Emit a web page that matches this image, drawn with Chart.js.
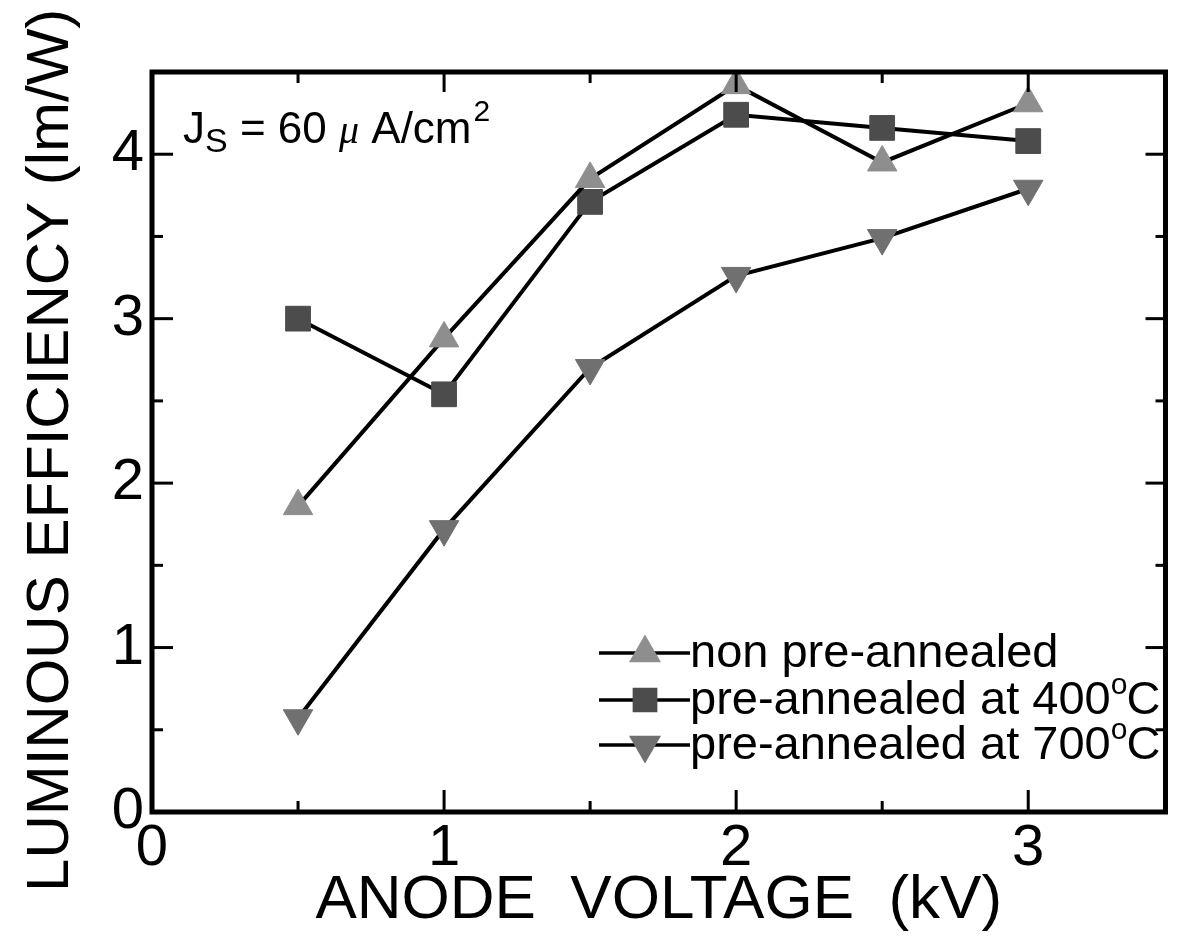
<!DOCTYPE html>
<html><head><meta charset="utf-8">
<script src="https://cdn.jsdelivr.net/npm/chart.js@4/dist/chart.umd.min.js"></script>
<style>html,body{margin:0;padding:0;background:#fff;} #wrap{width:1184px;height:939px;position:relative;}</style>
</head><body><div id="wrap"><canvas id="c"></canvas></div>
<script>
// ---- data ----
const anodeVoltage   = [0.5, 1.0, 1.5, 2.0, 2.5, 3.0];
const nonPreAnnealed = [1.86, 2.88, 3.85, 4.42, 3.95, 4.31];
const preAnnealed400 = [3.00, 2.54, 3.71, 4.24, 4.16, 4.08];
const preAnnealed700 = [0.57, 1.72, 2.70, 3.26, 3.49, 3.79];
const seriesLabels   = ['non pre-annealed', 'pre-annealed at 400\u00B0C', 'pre-annealed at 700\u00B0C'];
const xTickLabels    = ['0', '1', '2', '3'];
const yTickLabels    = ['0', '1', '2', '3', '4'];
const xTitle = 'ANODE  VOLTAGE  (kV)';
const yTitle = 'LUMINOUS EFFICIENCY (lm/W) ';
const noteParts = ['J', 'S', ' = 60 ', '\u03BC', ' A/cm', '2'];

// ---- styles ----
const FONT = '"Liberation Sans", Arial, Helvetica, sans-serif';
const seriesStyles = [
  {pointStyle: 'triangle', rotation: 0,   radius: 17, color: '#8e8e8e'},
  {pointStyle: 'rect',     rotation: 0,   radius: 17.5, color: '#4c4c4c'},
  {pointStyle: 'triangle', rotation: 180, radius: 17, color: '#707070'}
];
const seriesValues = [nonPreAnnealed, preAnnealed400, preAnnealed700];

const datasets = seriesValues.map((vals, i) => ({
  label: seriesLabels[i],
  data: anodeVoltage.map((x, j) => ({x: x, y: vals[j]})),
  borderColor: '#000',
  borderWidth: 4,
  tension: 0,
  pointStyle: seriesStyles[i].pointStyle,
  pointRotation: seriesStyles[i].rotation,
  pointRadius: seriesStyles[i].radius,
  pointHoverRadius: seriesStyles[i].radius,
  pointBackgroundColor: seriesStyles[i].color,
  pointBorderColor: seriesStyles[i].color,
  pointBorderWidth: 1
}));

const framePlugin = {
  id: 'frame',
  afterDatasetsDraw(chart) {
    const ctx = chart.ctx;
    const {left, right, top, bottom} = chart.chartArea;
    const xs = chart.scales.x, ys = chart.scales.y;
    ctx.save();
    ctx.strokeStyle = '#000';
    ctx.lineCap = 'butt';
    // inward ticks
    ctx.lineWidth = 3;
    const xMajor = xTickLabels.map(Number);
    const xMinor = [0.5, 1.5, 2.5];
    const yMajor = yTickLabels.map(Number);
    const yMinor = [0.5, 1.5, 2.5, 3.5];
    const seg = (x1, y1, x2, y2) => { ctx.beginPath(); ctx.moveTo(x1, y1); ctx.lineTo(x2, y2); ctx.stroke(); };
    xMajor.forEach(v => { const p = xs.getPixelForValue(v); seg(p, bottom, p, bottom - 22); seg(p, top, p, top + 20); });
    xMinor.forEach(v => { const p = xs.getPixelForValue(v); seg(p, bottom, p, bottom - 11); seg(p, top, p, top + 11); });
    yMajor.forEach(v => { const p = ys.getPixelForValue(v); seg(left, p, left + 21, p); seg(right, p, right - 20, p); });
    yMinor.forEach(v => { const p = ys.getPixelForValue(v); seg(left, p, left + 11, p); seg(right, p, right - 10, p); });
    // frame
    ctx.lineWidth = 5;
    ctx.strokeRect(left, top, right - left, bottom - top);

    // legend
    const rowY = [653, 700, 745];
    const lineX1 = 599, lineX2 = 690, markX = 645, textX = 690;
    seriesLabels.forEach((lab, i) => {
      const y = rowY[i];
      ctx.lineWidth = 3.5;
      ctx.strokeStyle = '#000';
      seg(lineX1, y, lineX2, y);
      const st = seriesStyles[i];
      ctx.fillStyle = st.color; ctx.strokeStyle = st.color;
      Chart.helpers.drawPoint(ctx, {pointStyle: st.pointStyle, radius: 15, rotation: st.rotation, borderWidth: 1}, markX, y);
      ctx.strokeStyle = '#000';
      ctx.fillStyle = '#000';
      ctx.textBaseline = 'alphabetic';
      ctx.textAlign = 'left';
      const parts = lab.split('\u00B0');
      ctx.font = '47px ' + FONT;
      let x = textX;
      const base = y + 14;
      ctx.fillText(parts[0], x, base);
      x += ctx.measureText(parts[0]).width;
      if (parts.length > 1) {
        ctx.font = '30px ' + FONT;
        ctx.fillText('o', x, base - 20);
        x += ctx.measureText('o').width - 1;
        ctx.font = '47px ' + FONT;
        ctx.fillText(parts[1], x, base);
      }
    });

    // annotation J_S = 60 μ A/cm²
    let ax = 183; const ab = 143;
    ctx.textAlign = 'left';
    ctx.textBaseline = 'alphabetic';
    ctx.font = '44px ' + FONT;
    ctx.fillText(noteParts[0], ax, ab); ax += ctx.measureText(noteParts[0]).width;
    ctx.font = '34px ' + FONT;
    ctx.fillText(noteParts[1], ax, ab + 9); ax += ctx.measureText(noteParts[1]).width;
    ctx.font = '44px ' + FONT;
    ctx.fillText(noteParts[2], ax, ab); ax += ctx.measureText(noteParts[2]).width;
    ctx.font = 'italic 40px "Liberation Serif", "Times New Roman", serif';
    ctx.fillText(noteParts[3], ax, ab); ax += ctx.measureText(noteParts[3]).width;
    ctx.font = '44px ' + FONT;
    ctx.fillText(noteParts[4], ax, ab); ax += ctx.measureText(noteParts[4]).width + 2;
    ctx.font = '30px ' + FONT;
    ctx.fillText(noteParts[5], ax, ab - 22);
    ctx.restore();
  }
};

new Chart(document.getElementById('c'), {
  type: 'line',
  data: {datasets: datasets},
  options: {
    responsive: true,
    maintainAspectRatio: false,
    animation: false,
    events: [],
    layout: {padding: {left: 0, right: 7, top: 72, bottom: 0}},
    plugins: {legend: {display: false}, tooltip: {enabled: false}},
    scales: {
      x: {
        type: 'linear', min: 0, max: 3.47,
        grid: {display: false, drawTicks: false},
        border: {display: false},
        ticks: {
          stepSize: 1, includeBounds: false, padding: 2,
          color: '#000', font: {family: FONT, size: 58},
          callback: (v) => { const i = xTickLabels.indexOf(String(v)); return i >= 0 ? xTickLabels[i] : ''; }
        },
        title: {display: true, text: xTitle, color: '#000', font: {family: FONT, size: 62}, padding: {top: 0, bottom: 1}},
        afterFit: (s) => { s.height = 127; }
      },
      y: {
        type: 'linear', min: 0, max: 4.5,
        grid: {display: false, drawTicks: false},
        border: {display: false},
        ticks: {
          stepSize: 1, includeBounds: false, padding: 8,
          color: '#000', font: {family: FONT, size: 58},
          callback: (v) => { const i = yTickLabels.indexOf(String(v)); return i >= 0 ? yTickLabels[i] : ''; }
        },
        title: {display: true, text: yTitle, color: '#000', font: {family: FONT, size: 60}, padding: {top: 15, bottom: 0}},
        afterFit: (s) => { s.width = 152; }
      }
    }
  },
  plugins: [framePlugin]
});
</script>
</body></html>
